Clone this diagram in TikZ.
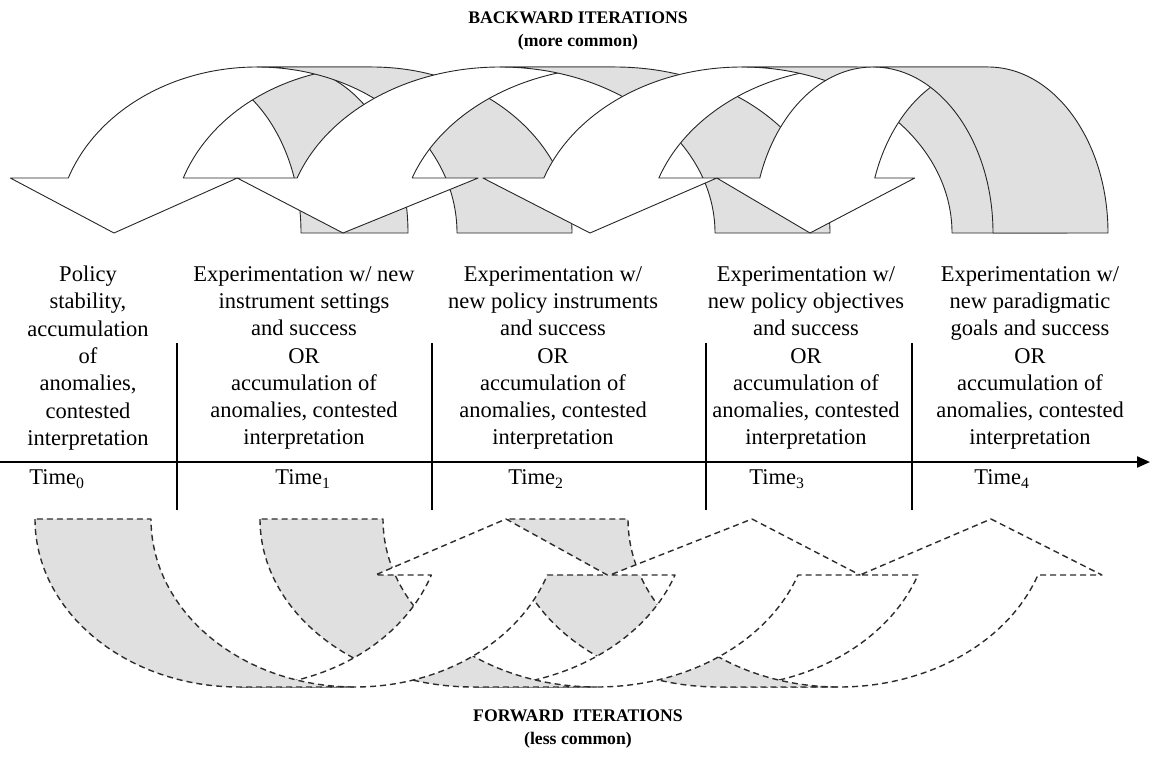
\documentclass[tikz,border=0pt]{standalone}
\usepackage{fontspec}
\setmainfont{Liberation Serif}
\usetikzlibrary{arrows.meta}
\definecolor{shade}{RGB}{224,224,224}
\definecolor{dashcol}{RGB}{45,45,45}
\tikzset{
  topline/.style={draw=black!85, line width=0.9pt, line join=round},
  botline/.style={draw=dashcol, line width=1.4pt, dash pattern=on 6pt off 4pt, line join=round},
  coltext/.style={align=center, font=\fontsize{22.5}{27.3}\selectfont, inner sep=0pt},
  title/.style={font=\bfseries\fontsize{17.7}{20}\selectfont, inner sep=0pt},
  timelab/.style={font=\fontsize{22.5}{26}\selectfont, inner sep=0pt},
  axisline/.style={line width=2.2pt},
}
% back (grey) part of a backward arrow: c1, w, th
\newcommand{\BackBand}[3]{%
  \pgfmathsetmacro{\pca}{#1}%
  \pgfmathsetmacro{\pcb}{#1-#3}%
  \filldraw[topline,fill=shade] (\pcb,67) -- (\pca,67)
    arc[start angle=270,end angle=360,x radius=#2,y radius=166]
    -- ({\pcb+#2},233)
    arc[start angle=360,end angle=270,x radius=#2,y radius=166] -- cycle;
}
% backward arrow: c1, w, th, tip, dhL, dhR
\newcommand{\BackArrow}[6]{%
  \pgfmathsetmacro{\pca}{#1}%
  \pgfmathsetmacro{\pcb}{#1-#3}%
  \pgfmathsetmacro{\pxo}{\pcb+#2*cos(199.35)}%
  \pgfmathsetmacro{\pxi}{\pca+#2*cos(199.35)}%
  \filldraw[topline,fill=white] (#4,233) -- ({\pxo-#5},178) -- (\pxo,178)
    arc[start angle=199.35,end angle=270,x radius=#2,y radius=166]
    -- (\pca,67)
    arc[start angle=270,end angle=199.35,x radius=#2,y radius=166]
    -- ({\pxi+#6},178) -- cycle;
  \BackBand{#1}{#2}{#3}%
}
% forward arrow: xL, w, th, tip, dhL, dhR
\newcommand{\FwdArrow}[6]{%
  \pgfmathsetmacro{\pco}{#1+#2}%
  \pgfmathsetmacro{\pci}{#1+#2+#3}%
  \pgfmathsetmacro{\pxa}{\pco+#2*cos(19.47)}%
  \pgfmathsetmacro{\pxb}{\pci+#2*cos(19.47)}%
  \filldraw[botline,fill=white] (#4,519) -- ({\pxb+#6},575) -- (\pxb,575)
    arc[start angle=19.47,end angle=90,x radius=#2,y radius=168]
    -- (\pco,687)
    arc[start angle=90,end angle=19.47,x radius=#2,y radius=168]
    -- ({\pxa-#5},575) -- cycle;
  \filldraw[botline,fill=shade] (#1,519)
    arc[start angle=180,end angle=90,x radius=#2,y radius=168]
    -- (\pci,687)
    arc[start angle=90,end angle=180,x radius=#2,y radius=168] -- cycle;
}
\begin{document}
\begin{tikzpicture}[x=1pt,y=-1pt]
\useasboundingbox (0,0) rectangle (1156,768);
\fill[white] (0,0) rectangle (1156,768);

% ---------- backward iterations ----------
\begin{scope}
  \clip (57,240) -- (57,233) arc[start angle=180,end angle=270,x radius=200,y radius=166] -- (1156,67) -- (1156,240) -- cycle;
  \BackBand{288}{120}{107}
\end{scope}
\BackArrow{372}{200}{115}{114}{58}{54}
\BackArrow{615}{215}{115}{343}{60}{66}
\BackArrow{857}{210}{115}{590}{61}{58}
\BackArrow{988}{120}{115}{810}{43}{40}

% ---------- forward iterations ----------
\FwdArrow{508}{211}{120}{991}{58}{64}
\FwdArrow{260}{213.6}{123}{752}{65}{62}
\FwdArrow{35}{204}{116}{506}{56}{60}

% ---------- titles ----------
\node[title] (bt) at (578,18) {BACKWARD ITERATIONS};
\node[title] (mc) at (578,42) {(more common)};
\node[title] (ft) at (578,716) {FORWARD\ \ ITERATIONS};
\node[title] (lc) at (578,740) {(less common)};

% ---------- stage texts ----------
\node[coltext] (c0) at (88,358) {Policy\\stability,\\accumulation\\of\\anomalies,\\contested\\interpretation};
\node[coltext] (c1) at (304,358) {Experimentation w/ new\\instrument settings\\and success\\OR\\accumulation of\\anomalies, contested\\interpretation};
\node[coltext] (c2) at (553,358) {Experimentation w/\\new policy instruments\\and success\\OR\\accumulation of\\anomalies, contested\\interpretation};
\node[coltext] (c3) at (806,358) {Experimentation w/\\new policy objectives\\and success\\OR\\accumulation of\\anomalies, contested\\interpretation};
\node[coltext] (c4) at (1030,358) {Experimentation w/\\new paradigmatic\\goals and success\\OR\\accumulation of\\anomalies, contested\\interpretation};

% ---------- time axis ----------
\coordinate (a0) at (0,462);
\coordinate (a1) at (1150,462);
\draw[axisline,-{Stealth[length=13pt,width=11pt,inset=0pt]}] (a0) -- (a1);
\foreach \dx/\nm in {177/d1,432/d2,706/d3,912/d4}{
  \coordinate (\nm t) at (\dx,343);
  \coordinate (\nm b) at (\dx,510);
  \draw[axisline] (\nm t) -- (\nm b);
}
\node[timelab] (t0) at (57,479) {Time\textsubscript{0}};
\node[timelab] (t1) at (303,479) {Time\textsubscript{1}};
\node[timelab] (t2) at (536,479) {Time\textsubscript{2}};
\node[timelab] (t3) at (777,479) {Time\textsubscript{3}};
\node[timelab] (t4) at (1002,479) {Time\textsubscript{4}};
\end{tikzpicture}
\end{document}
